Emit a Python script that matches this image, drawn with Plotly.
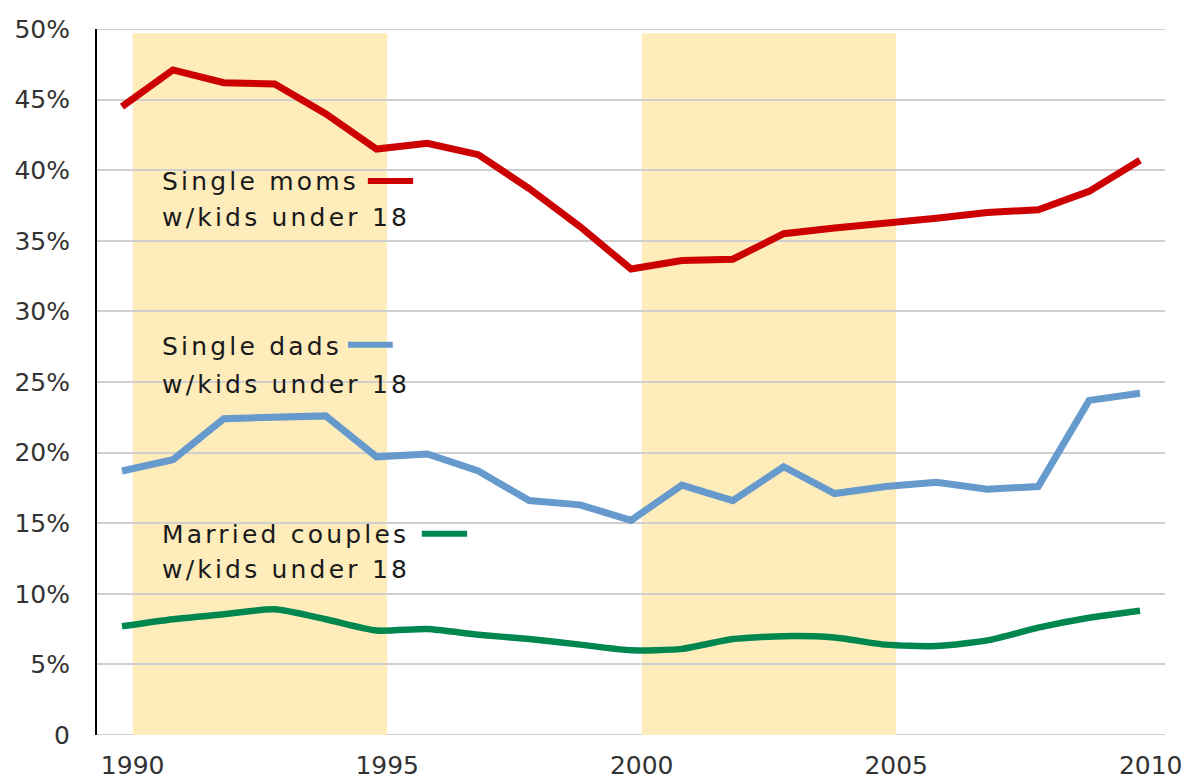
import plotly.graph_objects as go

# ---- data ----
years = list(range(1990, 2011))
single_moms = [44.5, 47.1, 46.2, 46.1, 44.0, 41.5, 41.9, 41.1, 38.7, 36.0, 33.0,
               33.6, 33.7, 35.5, 35.9, 36.2, 36.6, 37.0, 37.2, 38.5, 40.7]
single_dads = [18.7, 19.5, 22.4, 22.5, 22.6, 19.7, 19.9, 18.7, 16.6, 16.3, 15.2,
               17.7, 16.6, 19.0, 17.1, 17.6, 17.9, 17.4, 17.6, 23.7, 24.2]
married = [7.7, 8.2, 8.55, 8.9, 8.2, 7.4, 7.5, 7.1, 6.8, 6.4, 6.0,
           6.1, 6.8, 7.0, 6.9, 6.4, 6.3, 6.7, 7.6, 8.3, 8.8]

x_tick_years = [1990, 1995, 2000, 2005, 2010]
x_tick_labels = ["1990", "1995", "2000", "2005", "2010"]
y_tick_vals = [0, 5, 10, 15, 20, 25, 30, 35, 40, 45, 50]
y_tick_labels = ["0", "5%", "10%", "15%", "20%", "25%", "30%", "35%", "40%", "45%", "50%"]
bands = [(1990, 1995), (2000, 2005)]

# ---- styling ----
OFFSET = 0.21
RED = "#CC0000"
BLUE = "#6699CC"
GREEN = "#00874F"
BAND = "#FEECBB"
GRID = "#CFCFCF"
FONT = "DejaVu Sans"
TXT = "#1A1A1A"

fig = go.Figure()

fig.add_trace(go.Scatter(x=years, y=single_moms, mode="lines",
                         line=dict(color=RED, width=7), hoverinfo="skip"))
fig.add_trace(go.Scatter(x=years, y=single_dads, mode="lines",
                         line=dict(color=BLUE, width=7), hoverinfo="skip"))
fig.add_trace(go.Scatter(x=years, y=married, mode="lines",
                         line=dict(color=GREEN, width=6.5, shape="spline", smoothing=0.6),
                         hoverinfo="skip"))

for a, b in bands:
    fig.add_shape(type="rect", xref="x", yref="y", x0=a + OFFSET, x1=b + OFFSET,
                  y0=0, y1=49.7, fillcolor=BAND, line=dict(width=0), layer="below")

# edge gridlines (0 and 50)
for yv in (y_tick_vals[0], y_tick_vals[-1]):
    fig.add_shape(type="line", xref="paper", yref="y", x0=0, x1=1, y0=yv, y1=yv,
                  line=dict(color=GRID, width=2), layer="below")

# legend-style labels
labels = [
    ("Single moms", "w/kids under 18", 39.17, 36.62, RED, 1994.83, 1995.72, 39.24),
    ("Single dads", "w/kids under 18", 27.49, 24.81, BLUE, 1994.44, 1995.32, 27.64),
    ("Married couples", "w/kids under 18", 14.19, 11.71, GREEN, 1995.89, 1996.78, 14.26),
]
LS = '<span style="letter-spacing:3.2px">{}</span>'
for l1, l2, y1, y2, col, sx0, sx1, sy in labels:
    for txt, yy in ((l1, y1), (l2, y2)):
        fig.add_annotation(x=1990.75, y=yy, xref="x", yref="y", text=LS.format(txt),
                           showarrow=False, xanchor="left", yanchor="middle",
                           font=dict(family=FONT, size=25, color=TXT))
    fig.add_shape(type="line", xref="x", yref="y", x0=sx0, x1=sx1, y0=sy, y1=sy,
                  line=dict(color=col, width=6), layer="above")

fig.update_layout(
    width=1188, height=780,
    margin=dict(l=97, r=23, t=29, b=45, autoexpand=False),
    paper_bgcolor="white", plot_bgcolor="white",
    showlegend=False,
    font=dict(family=FONT, size=25, color="#333333"),
    xaxis=dict(range=[1989.509, 2010.491], tickvals=[y + OFFSET for y in x_tick_years],
               ticktext=x_tick_labels, showgrid=False, zeroline=False, showline=False,
               ticks="", automargin=False, ticklabelstandoff=13,
               tickfont=dict(family=FONT, size=25, color="#333333")),
    yaxis=dict(range=[0, 50], tickvals=y_tick_vals, ticktext=y_tick_labels,
               showgrid=True, gridcolor=GRID, gridwidth=2, zeroline=False,
               showline=True, linecolor="#000000", linewidth=2, ticks="",
               ticklabelstandoff=20, automargin=False,
               tickfont=dict(family=FONT, size=25, color="#333333")),
)

fig.write_html("out.html", config={"displayModeBar": False},
               post_script="document.body.style.margin='0px';document.body.style.overflow='hidden';")
